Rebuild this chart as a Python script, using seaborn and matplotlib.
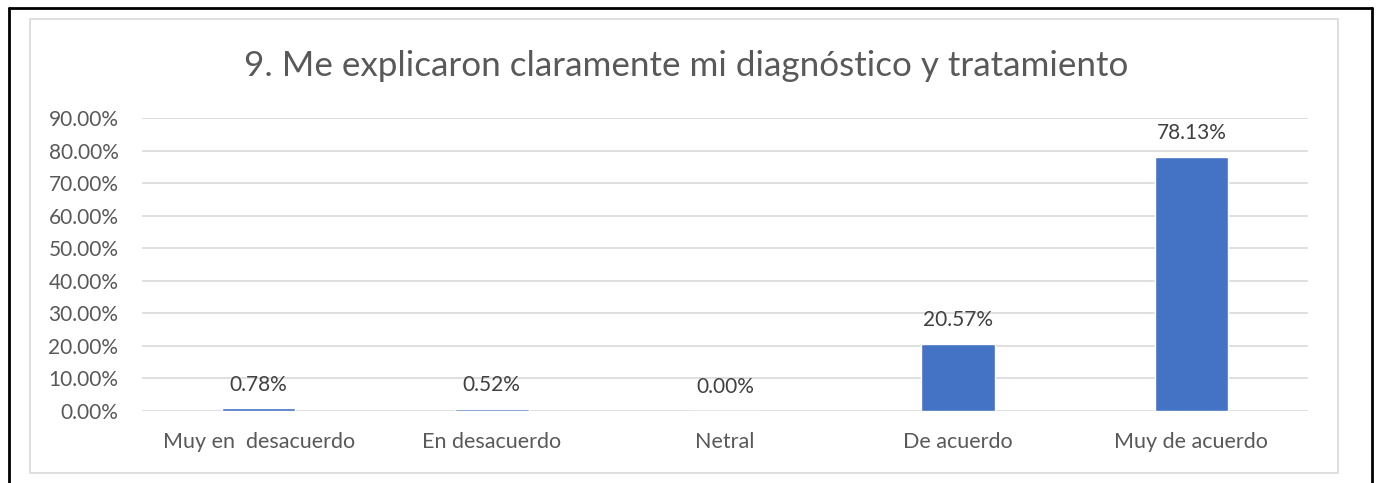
import matplotlib
matplotlib.use("Agg")
import matplotlib.pyplot as plt
import seaborn as sns
from matplotlib.ticker import PercentFormatter, MultipleLocator
from matplotlib.lines import Line2D
from matplotlib.patches import Rectangle

categories = ["Muy en  desacuerdo", "En desacuerdo", "Netral", "De acuerdo", "Muy de acuerdo"]
values = [0.0078, 0.0052, 0.0, 0.2057, 0.7813]
labels = ["0.78%", "0.52%", "0.00%", "20.57%", "78.13%"]
title = "9. Me explicaron claramente mi diagnóstico y tratamiento"

sns.set_theme(style="white")
plt.rcParams["font.family"] = ["Lato", "DejaVu Sans"]

W, H = 1379, 483
fig = plt.figure(figsize=(W / 100, H / 100), dpi=100)
fig.patch.set_facecolor("white")

ax = fig.add_axes([142 / W, 1 - 411 / H, (1308 - 142) / W, (411 - 118) / H])
sns.barplot(x=categories, y=values, color="#4472C4", saturation=1, width=0.315, ax=ax)

ax.set_ylim(0, 0.9)
ax.yaxis.set_major_locator(MultipleLocator(0.1))
ax.yaxis.set_major_formatter(PercentFormatter(1, decimals=2))
ax.grid(axis="y", color="#D9D9D9", linewidth=1.2)
ax.set_axisbelow(True)
for s in ax.spines.values():
    s.set_visible(False)
ax.tick_params(axis="y", length=0, labelsize=15, labelcolor="#595959", pad=17)
ax.tick_params(axis="x", length=0, labelsize=15.5, labelcolor="#595959", pad=15)
ax.set_xlabel("")
ax.set_ylabel("")
ax.set_xlim(-0.5, len(categories) - 0.5)

for i, (v, lab) in enumerate(zip(values, labels)):
    ax.annotate(lab, (i, v), xytext=(0, 10), textcoords="offset points",
                ha="center", va="bottom", fontsize=15, color="#404040")

fig.text(686 / W, 1 - 66 / H, title, ha="center", va="center", fontsize=25.2, color="#595959")

# inner chart border
fig.add_artist(Rectangle((30 / W, 1 - 473 / H), (1338 - 30) / W, (473 - 19) / H,
                         transform=fig.transFigure, fill=False, edgecolor="#D9D9D9", linewidth=1.2))
# outer black border
kw = dict(transform=fig.transFigure, color="black", linewidth=2)
fig.add_artist(Line2D([9 / W, 9 / W], [0, 1 - 8 / H], **kw))
fig.add_artist(Line2D([9 / W, 1372 / W], [1 - 8 / H, 1 - 8 / H], **kw))
fig.add_artist(Line2D([1372 / W, 1372 / W], [0, 1 - 8 / H], **kw))

fig.savefig("out.png", dpi=100)
